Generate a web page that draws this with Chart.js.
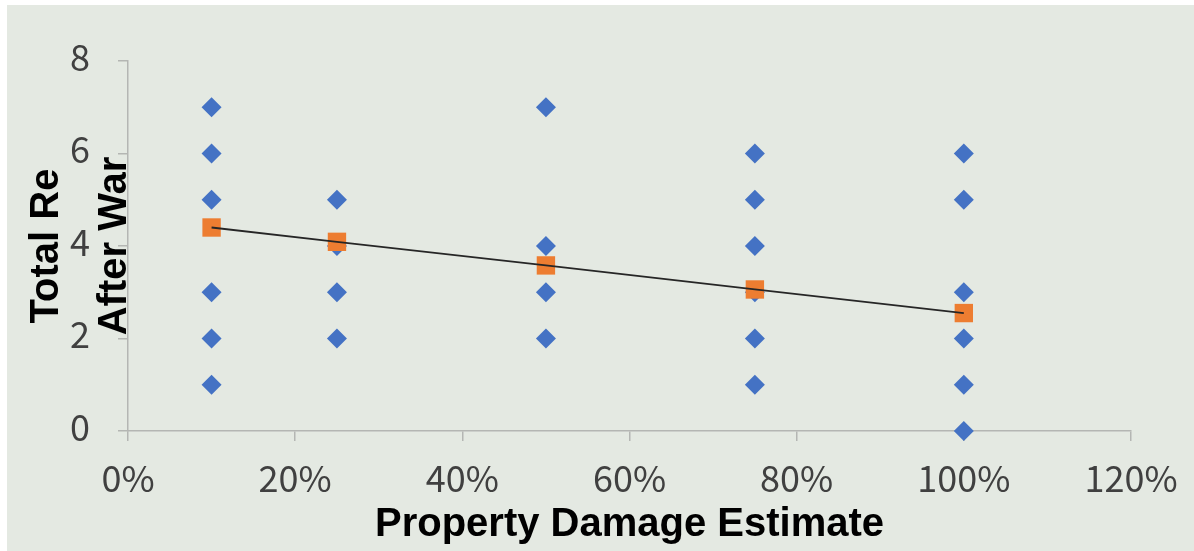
<!DOCTYPE html>
<html>
<head>
<meta charset="utf-8">
<script src="https://cdn.jsdelivr.net/npm/chart.js@4/dist/chart.umd.min.js"></script>
<style>
  html, body { margin: 0; padding: 0; background: #ffffff; }
  #wrap { width: 1194px; height: 551px; position: relative; }
</style>
</head>
<body>
<div id="wrap"><canvas id="chart" width="1194" height="551"></canvas></div>
<script>
// Damage levels (fraction of property destroyed) and the reported totals at each level
const damageLevels = [0.10, 0.25, 0.50, 0.75, 1.00];
const reports10 = [7, 6, 5, 3, 2, 1];
const reports25 = [5, 4, 3, 2];
const reports50 = [7, 4, 3, 2];
const reports75 = [6, 5, 4, 3, 2, 1];
const reports100 = [6, 5, 3, 2, 1, 0];
// Fitted (predicted) totals for each damage level
const fittedValues = [4.40, 4.09, 3.58, 3.06, 2.55];

const xTickValues = [0, 0.2, 0.4, 0.6, 0.8, 1.0, 1.2];
const yTickValues = [0, 2, 4, 6, 8];
const yTitleLines = ['Total Re', 'After War'];
const xTitleText = 'Property Damage Estimate';

const reportGroups = [reports10, reports25, reports50, reports75, reports100];
const observedPoints = [];
reportGroups.forEach((group, i) => {
  group.forEach(v => observedPoints.push({ x: damageLevels[i], y: v }));
});
const fittedPoints = damageLevels.map((x, i) => ({ x, y: fittedValues[i] }));

const AXIS_COLOR = '#b4b6b3';
const TICK_FONT = { family: '"Noto Sans CJK JP", "Noto Sans", sans-serif', size: 36, weight: '400' };
const TITLE_FONT = { family: '"Liberation Sans", Arial, sans-serif', size: 40, weight: 'bold' };

// Panel background with a thin white margin on the left and top
const backdrop = {
  id: 'backdrop',
  beforeDraw(chart) {
    const { ctx, width, height } = chart;
    ctx.save();
    ctx.fillStyle = '#ffffff';
    ctx.fillRect(0, 0, width, height);
    ctx.fillStyle = '#e4e9e2';
    ctx.fillRect(7, 5, width - 7, height - 5);
    ctx.restore();
  }
};

// Two-line vertical title for the y axis, set close to the tick labels
const yTitle = {
  id: 'yTitle',
  afterDraw(chart) {
    const { ctx, chartArea } = chart;
    const cy = (chartArea.top + chartArea.bottom) / 2;
    const baselines = [58, 126];
    ctx.save();
    ctx.fillStyle = '#000000';
    ctx.font = `bold ${TITLE_FONT.size}px ${TITLE_FONT.family}`;
    ctx.textAlign = 'center';
    ctx.textBaseline = 'alphabetic';
    yTitleLines.forEach((line, i) => {
      ctx.save();
      ctx.translate(baselines[i], cy);
      ctx.rotate(-Math.PI / 2);
      ctx.fillText(line, 0, 0);
      ctx.restore();
    });
    ctx.restore();
  }
};

new Chart(document.getElementById('chart'), {
  type: 'scatter',
  data: {
    datasets: [
      {
        label: 'Trend',
        data: fittedPoints,
        showLine: true,
        borderColor: '#262626',
        borderWidth: 1.8,
        pointRadius: 0,
        pointHoverRadius: 0,
        fill: false,
        clip: false
      },
      {
        label: 'Predicted',
        data: fittedPoints,
        pointStyle: 'rect',
        pointRadius: 13,
        pointHoverRadius: 13,
        backgroundColor: '#ed7d31',
        borderColor: '#ed7d31',
        borderWidth: 0,
        clip: false
      },
      {
        label: 'Reported',
        data: observedPoints,
        pointStyle: 'rectRot',
        pointRadius: 10,
        pointHoverRadius: 10,
        backgroundColor: '#4472c4',
        borderColor: '#4472c4',
        borderWidth: 0,
        clip: false
      }
    ]
  },
  options: {
    responsive: false,
    devicePixelRatio: 1,
    animation: false,
    events: [],
    layout: { padding: { left: 0, top: 61, right: 63, bottom: 0 } },
    plugins: {
      legend: { display: false },
      tooltip: { enabled: false }
    },
    scales: {
      x: {
        type: 'linear',
        min: 0,
        max: 1.2,
        afterBuildTicks(scale) { scale.ticks = xTickValues.map(v => ({ value: v })); },
        afterFit(scale) { scale.height = 120; },
        grid: {
          display: true,
          drawOnChartArea: false,
          drawTicks: true,
          tickLength: 10,
          color: AXIS_COLOR,
          lineWidth: 1.5
        },
        border: { display: true, color: AXIS_COLOR, width: 1.5 },
        ticks: {
          font: TICK_FONT,
          color: '#404040',
          padding: 16,
          maxRotation: 0,
          autoSkip: false,
          callback: v => Math.round(v * 100) + '%'
        },
        title: {
          display: true,
          text: xTitleText,
          font: TITLE_FONT,
          color: '#000000',
          padding: { top: 0, bottom: 2 }
        }
      },
      y: {
        type: 'linear',
        min: 0,
        max: 8,
        afterBuildTicks(scale) { scale.ticks = yTickValues.map(v => ({ value: v })); },
        afterFit(scale) { scale.width = 128; },
        grid: {
          display: true,
          drawOnChartArea: false,
          drawTicks: true,
          tickLength: 10,
          color: AXIS_COLOR,
          lineWidth: 1.5
        },
        border: { display: true, color: AXIS_COLOR, width: 1.5 },
        ticks: {
          font: TICK_FONT,
          color: '#404040',
          padding: 28,
          labelOffset: -4,
          autoSkip: false
        }
      }
    }
  },
  plugins: [backdrop, yTitle]
});
</script>
</body>
</html>
